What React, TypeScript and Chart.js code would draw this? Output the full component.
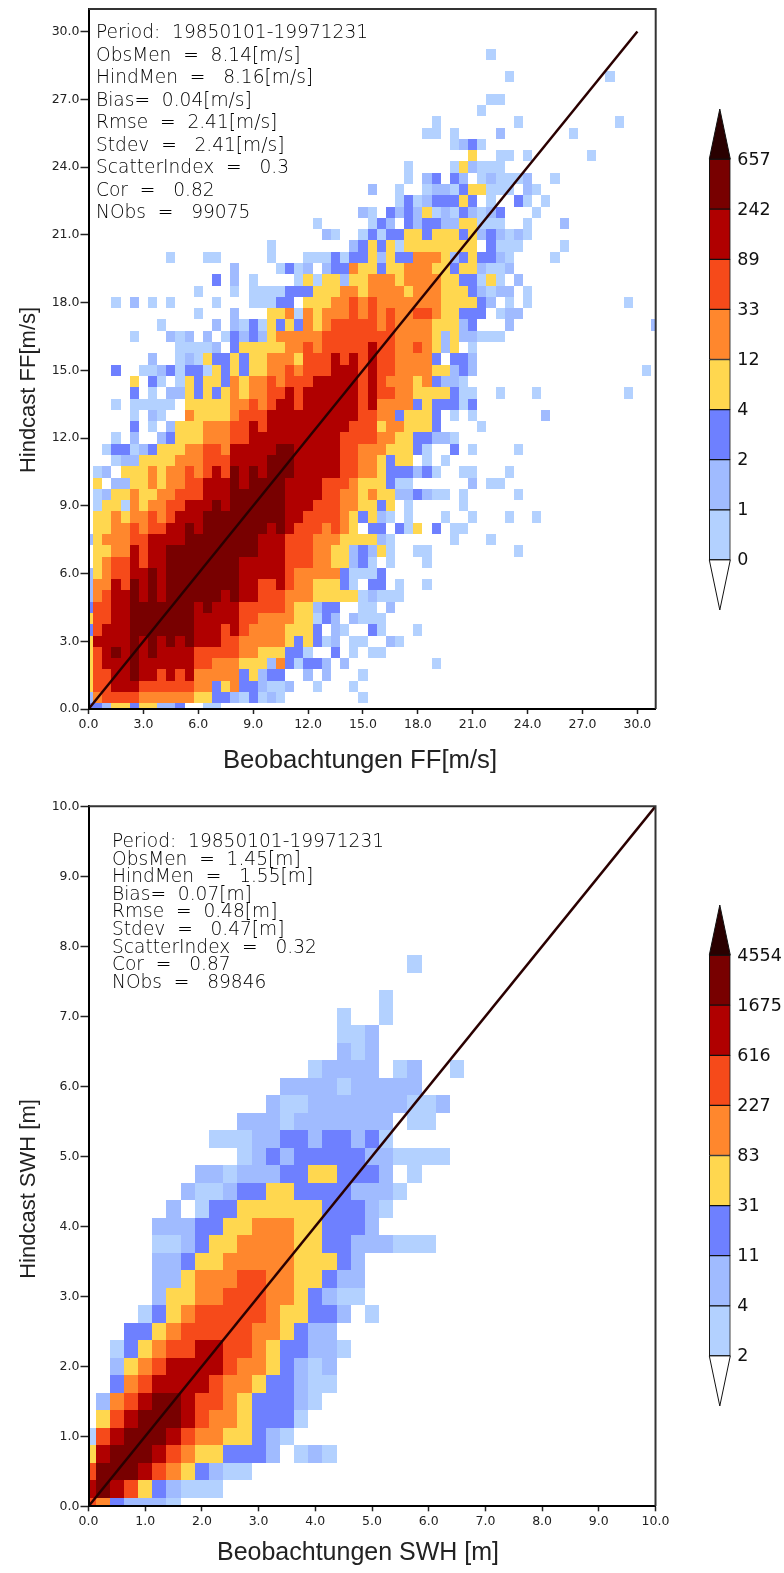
import React, { useEffect, useRef } from "react";
import { Chart, registerables, ScatterController } from "chart.js";

Chart.register(...registerables);

const levelColors = ["#b3d1ff", "#a0bbff", "#6e80ff", "#ffd74f", "#ff872d", "#f64a1a", "#b00000", "#780000"];
const apexColor = "#2a0000";

const ffColorbarLabels = ["0", "1", "2", "4", "12", "33", "89", "242", "657"];
const swhColorbarLabels = ["2", "4", "11", "31", "83", "227", "616", "1675", "4554"];

const ffStats = [
  "Period:  19850101-19971231",
  "ObsMen  =  8.14[m/s]",
  "HindMen  =   8.16[m/s]",
  "Bias=  0.04[m/s]",
  "Rmse  =  2.41[m/s]",
  "Stdev  =   2.41[m/s]",
  "ScatterIndex  =   0.3",
  "Cor  =   0.82",
  "NObs  =   99075",
];
const swhStats = [
  "Period:  19850101-19971231",
  "ObsMen  =  1.45[m]",
  "HindMen  =   1.55[m]",
  "Bias=  0.07[m]",
  "Rmse  =  0.48[m]",
  "Stdev  =   0.47[m]",
  "ScatterIndex  =   0.32",
  "Cor  =   0.87",
  "NObs  =   89846",
];

// One string per y bin, from y = 0 upward. "a-b:L" means x bins a to b hold colour level L.
const ffRows = [
  "0:3 1:3 2:2 3-4:4 5:3 6-7:4 8-9:2 10:3 13-14:1",
  "0:2 1:5 2-5:6 6-11:5 12-13:4 14-15:3 16:2 17:1 18:3 19:1 20:2 21:1 30:1",
  "0:4 1-2:6 3-5:7 6-11:6 12-13:5 14:3 15:4 16:5 17-18:3 19:2 20-21:1 22:2 25:1 29:1",
  "0:4 1-2:6 3-4:7 5:8 6-7:7 8:6 9:7 10:6 11:7 12-16:5 17:3 18:4 19:2 20-21:3 24:2 26:2 30:1",
  "0:4 1:6 2-4:7 5:8 6-11:7 12-13:6 14-16:5 17-19:4 20:2 21:5 22:3 23:1 24-25:3 26:2 28:2 38:1",
  "0:4 1:6 2:7 3:8 4:7 5:8 6:7 7:8 8-11:7 12-16:6 17-18:5 19-21:4 22-23:3 24:1 27:3 29:1 31-32:1",
  "0:4 1-4:7 5:8 6:7 7:8 8:7 9:8 10:7 11:8 12-14:7 15-16:6 17-21:5 22:4 23:3 24:4 25:3 26:1 27:2 29-30:1 33:2 34:1",
  "0:3 1:6 2-4:7 5-11:8 12-14:7 15:6 16:7 17:6 18-21:5 22-24:4 25:3 27:2 28:1 31:3 32:1 36:1",
  "0:4 1-2:6 3-4:7 5-11:8 12-16:7 17-18:6 19-22:5 23-24:4 25:1 26:3 27:2 29:2 30-32:1",
  "0:3 1-2:6 3-4:7 5-11:8 12:7 13:8 14-16:7 17-21:6 22:5 23-24:4 25:2 26-27:3 30-31:1 33:2",
  "0:2 1:5 2:6 3-4:7 5:8 6:7 7:8 8:7 9-14:8 15:7 16:8 17-18:7 19-21:6 22-24:5 25-29:4 30:1 31:2 32-34:1",
  "0:2 1-2:5 3:7 4:6 5:8 6:7 7:8 8:7 9-16:8 17-18:7 19-20:6 21:7 22:6 23-24:5 25-27:4 28:3 29:1 31-32:3 34:1 37:1",
  "0:2 1:4 2:5 3-4:6 5-6:7 7:8 8:7 9-16:8 17-21:7 22:6 23-27:5 28:3 29-31:1 32:3",
  "1:4 2:5 3-4:6 5:7 6:6 7-8:7 9-16:8 17-21:7 22-24:6 25-26:5 27-28:4 29:2 30:3 31:1 33:1 37:1",
  "1-2:4 3-4:5 5:7 6:6 7-8:7 9-18:8 19-21:7 22-24:6 25-26:5 27-28:4 29:2 30:3 31:2 32:4 33:1 36-37:1 47:1",
  "0:2 1:4 2-4:5 5-6:6 7-10:7 11-18:8 19-21:7 22-24:6 25-27:5 28-31:4 32:2 33:1 40:1 44:1",
  "1-2:4 3-4:5 5:6 6:5 7-8:6 9-10:7 11:8 12:7 13-19:8 20:7 21:8 22:7 23-25:6 26:5 27:6 28:5 29:4 31-32:3 34:3 35:1 36:4 38:3 40-41:1",
  "1-2:4 3:5 4:4 5-6:5 7:6 8:5 9:6 10-12:7 13-21:8 22-23:7 24-27:6 28:5 29:4 30:3 31:4 32:2 33:1 35:1 39:1 42:1 46:1 49:1",
  "1:1 2-3:4 4:1 5:5 6:4 7-8:5 9-10:6 11-13:7 14:8 15:7 16-21:8 22-24:7 25-27:6 28-29:5 30-31:4 32:3 33:4 35:1 41:1",
  "1:1 2:2 3-4:4 5:5 6-7:4 8-9:5 10-12:6 13-15:7 16-21:8 22-25:7 26-27:6 28-29:5 30:4 31:5 32-33:4 34-35:2 36:3 37:2 38-39:1 41:1 47:1",
  "1:4 3-4:2 5-6:4 7:5 8:4 9-10:5 11-12:6 13-15:7 16:8 17:7 18-21:8 22-25:7 26-28:6 29:5 30-32:4 33:3 34-35:1 42:2 44-45:1",
  "1:1 2:2 4-6:4 7:5 8:4 9-10:5 11:6 12:5 13:6 14:7 15:6 16:8 17:7 18:8 19:7 20-22:8 23-27:7 28-29:6 30-31:5 32:4 33-35:3 36:2 37:3 38:1 41-42:1 46:1",
  "3:1 4-5:2 6-9:4 10-12:5 13-15:6 16-19:7 20-22:8 23-27:7 28-29:6 30-31:5 32:4 33:3 34-35:4 37:1 39:1",
  "2:1 3-4:3 5:1 6:2 7:3 8-10:4 11-12:5 13-14:6 15:5 16-20:7 21-22:8 23-27:7 28-29:6 30-32:5 33-35:4 36:3 37:1 40:3 42:1 47:1",
  "3:1 5:2 8:2 9:3 10-12:4 13-15:5 16-17:6 18-27:7 28-31:6 32-33:5 34-35:4 36-37:3 38-39:2 40:1",
  "5:3 7:1 9:2 10-12:4 13-15:5 16-17:6 18:7 19:6 20-28:7 29-31:6 32:4 33-34:5 35-37:4 38:3 43:1",
  "5:1 7:2 8:1 11:5 12-15:4 16:5 17-19:6 20-29:7 30-31:6 32-33:5 34:3 35-37:4 38:3 40:1 42:1 50:2",
  "3:1 5-9:1 11-15:4 16-17:5 18:6 19:5 20:6 21-22:7 23:6 24-29:7 30:6 31:7 32-35:5 36:3 37:4 38-40:3 41:1 42:3",
  "5:3 7:1 9-10:2 11:4 12:3 13:4 14:3 15:4 16:5 17:4 18-19:5 20-21:6 22:7 23:6 24-29:7 30:6 31:7 32-33:6 34-35:5 36-39:4 40:3 41-42:1 45:1 49:1 59:1",
  "5:4 7:3 8:1 10:1 11:4 12:3 13-14:4 15:3 16:5 17:4 18-19:5 20:6 21:5 22-24:6 25-29:7 30:6 31:7 32:6 33-35:5 36:4 37:5 38:3 39-40:2 41:1",
  "3:3 6-7:1 8:2 9:3 10:1 11-12:3 13:1 14:4 15:3 16:4 17:3 18-19:4 20-21:5 22:6 23:5 24-26:6 27-29:7 30:6 31:7 32-33:6 34-37:5 38-39:4 40:2 41:3 42:2 61:1",
  "7:2 10:1 11:2 12:1 13:4 14-15:3 16:4 17:3 18-19:4 20-22:5 23:4 24-26:6 27:7 28:6 29:7 30:6 31:7 32-33:6 34-37:5 38:3 40-41:3 42:2",
  "10-13:1 14:2 16:3 17-21:4 22-23:5 24:6 25:5 26-30:6 31:7 32-33:6 34-35:5 36:6 37:5 38:4 39:2 40:4 42:1",
  "5:1 9:2 10:1 11:2 13:2 15:1 16:3 17:2 18:3 19:2 20:4 21-25:5 26-33:6 34-37:5 38:4 39:2 40:4 41-42:2 43-45:1",
  "8:1 14:2 16:2 17:1 18:3 19:1 20:4 21:3 22:4 23:3 24:5 25:4 26:5 27-31:6 32:5 33:6 34-37:5 38-40:4 41:2 42:3 46:2 62:2",
  "12:1 16:2 20-21:4 22:5 23:1 24:5 25:4 26-28:5 29:6 30:5 31:6 32:5 33:6 34-35:5 36-37:6 38:5 39-40:4 41-43:3 45:1 46-47:2",
  "3:1 5:2 7:1 9:1 14:1 18-20:1 21-22:3 24-26:4 27-28:5 29:6 30:5 31:6 32-38:5 39-42:4 43:3 44:2 46:1 48:1 59:1",
  "12:1 16:1 18-21:1 22-24:3 25-27:4 28-29:5 30:4 31-34:5 35:4 36-38:5 39-41:4 42:3 43:2 44:1 45-46:2 48:1",
  "14:3 16:2 18:1 23:1 24:4 25:1 26-27:4 28:2 29-30:4 31-33:5 34:4 35-38:5 39-40:4 41-42:3 43:1 44:4 45:1 47:2",
  "16:2 21:1 22:3 23:1 24:2 26:2 27-28:3 29:5 30-31:4 32:3 33-34:4 35-37:5 38-39:4 40:3 41-42:4 43:2 44-45:1 46:2",
  "9:1 13-14:1 20:1 24-26:1 27:3 28:1 29-30:3 31:4 32:2 33:4 34-35:3 36-38:5 39:4 40:2 41:3 42:4 43-44:3 45:2 46:1 51:1",
  "20:1 29:2 30:3 31:4 32:3 33:4 34:1 35-42:4 44:3 45-47:1 52:1",
  "26:2 27:1 30:1 31:3 32:1 33-34:3 35-36:4 37:3 38-40:4 41:3 42:4 43:2 44:3 45:2 46:1 47:2 48:1",
  "25:1 31:1 32:3 33:2 35:3 36:2 37-38:3 39-40:2 41-42:4 43-45:1 48:1 52:2",
  "30:2 31:1 33:3 34:2 35:3 36:2 37:4 38:1 39:2 40:1 41:3 42:2 43:1 44:2 45:3 49:1",
  "34:1 35:3 36:1 37:2 38-40:3 41:4 42:3 44:1 47:3 48:1 50:1",
  "31:2 34:1 37:1 38-39:2 40:1 41:3 42-43:4 44-46:1 48:2 49:1",
  "35:1 37:2 38:3 40:3 41:2 43:1 44:2 45-47:1 48:2 51:1",
  "35:1 40:1 41:4 42:2 43-45:1",
  "42:4 45-46:1 48:1 55:1",
  "40:1 41:2 42:3 43:1",
  "37-38:1 40:1 45:2 53:1",
  "38:1 47:1 58:1",
  "43:1",
  "44-45:1",
  "",
  "46:1 57:1",
  "",
  "44:1",
];

const swhRows = [
  "0:6 1:5 2:3 3-5:2 6:1",
  "0:7 1:8 2:7 3:6 4:4 5:3 6:2 7-9:1",
  "0:6 1-3:8 4:7 5:6 6:5 7:4 8:3 9:2 10-11:1",
  "0:4 1:7 2-4:8 5:7 6:6 7:5 8-9:4 10-12:3 13:2 15:1 16:2 17:1",
  "0:1 1:6 2:7 3-5:8 6:7 7:6 8-9:5 10-11:4 12:3 13:2 14:1",
  "1:4 2:6 3:7 4-6:8 7:7 8:6 9-10:5 11:4 12-14:3 15:1",
  "1:2 2:5 3:6 4:7 5-6:8 7:7 8-9:6 10:5 11:4 12-14:3 15:2 16:1",
  "2:3 3:5 4:6 5-8:7 9:6 10-11:5 12:4 13-14:3 15:2 16-17:1",
  "2:2 3:4 4:5 5:6 6-9:7 10:6 11-12:5 13:4 14:3 15:2 16:1 17:2",
  "2:1 3:3 4:4 5:5 6-7:6 8-9:7 10-11:6 12:5 13:4 14-15:3 16-17:2 18:1",
  "3-4:3 5:4 6:5 7-11:6 12-13:5 14:4 15:3 16-17:2",
  "4:1 5:3 6:4 7:5 8-12:6 13:5 14-15:4 16-17:3 18:2 20:1",
  "5:2 6-7:4 8-9:5 10-12:6 13-14:5 15:4 16:3 17:2 18-19:1",
  "5-6:2 7:4 8-10:5 11-12:6 13-14:5 15-16:4 17:3 18-19:2",
  "5-6:2 7:3 8-9:4 10-14:5 15-17:4 18:3 19:2",
  "5-6:1 7:2 8:3 9-10:4 11-14:5 15-16:4 17-18:3 19-21:2 22-24:1",
  "5-7:2 8-9:3 10-11:4 12-14:5 15-16:4 17-19:3 20:2",
  "6:2 8:1 9-10:3 11-16:4 17-19:3 20:2 21:1",
  "7:2 8-9:1 10:2 11-12:3 13-14:4 15-18:3 19-21:2 22:1",
  "8-9:2 10:1 11-13:2 14-15:3 16-17:4 18-20:3 21:2 23:1",
  "11:1 12:2 13:3 14:2 15-19:3 20-21:2 22-25:1",
  "9-11:1 12-13:2 14-15:3 16:2 17-18:3 19:2 20:3 21:1",
  "11-13:2 14:1 15-21:2 23-24:1",
  "13:2 14-15:1 16-22:2 23-24:1 25:2",
  "14-17:2 18:1 19-23:2",
  "16:1 17-20:2 22:1 23:2 26:1",
  "18:2 19:1 20:2",
  "18-19:1 20:2",
  "18:1 21:1",
  "21:1",
  "",
  "23:1",
];

const ffXTitle = "Beobachtungen FF[m/s]";
const ffYTitle = "Hindcast FF[m/s]";
const swhXTitle = "Beobachtungen SWH [m]";
const swhYTitle = "Hindcast SWH [m]";

const FF_BIN = 0.5;
const SWH_BIN = 0.25;
const FF_AXIS_MAX = 31;
const SWH_AXIS_MAX = 10;
const FF_TICK_STEP = 3;
const SWH_TICK_STEP = 1;
const FF_LINE_END = 30;
const SWH_LINE_END = 10;

const SANS = "'DejaVu Sans', sans-serif";
const TITLE_FONT = "'Liberation Sans', sans-serif";

type Pt = { x: number; y: number };

function cellsForLevel(rows: string[], binSize: number, level: number): Pt[] {
  const pts: Pt[] = [];
  rows.forEach((row, r) => {
    if (!row) return;
    row.split(" ").forEach((run) => {
      const [span, lv] = run.split(":");
      if (Number(lv) !== level) return;
      const [a, b] = span.split("-").map(Number);
      for (let k = a; k <= (b ?? a); k++) pts.push({ x: k * binSize, y: r * binSize });
    });
  });
  return pts;
}

class HeatCellController extends ScatterController {
  static id = "heatCell";
  draw() {
    const meta: any = this.getMeta();
    const ctx: CanvasRenderingContext2D = this.chart.ctx;
    const ds: any = this.getDataset();
    const half = ds.binSize / 2;
    const xs = meta.xScale;
    const ys = meta.yScale;
    ctx.save();
    ctx.fillStyle = ds.backgroundColor;
    for (const p of ds.data as Pt[]) {
      const l = Math.round(xs.getPixelForValue(p.x - half));
      const rr = Math.round(xs.getPixelForValue(p.x + half));
      const t = Math.round(ys.getPixelForValue(p.y + half));
      const b = Math.round(ys.getPixelForValue(p.y - half));
      ctx.fillRect(l, t, rr - l, b - t);
    }
    ctx.restore();
  }
}
Chart.register(HeatCellController as any);

const clearPadding = (s: any) => {
  s.paddingTop = 0;
  s.paddingBottom = 0;
  s.paddingLeft = 0;
  s.paddingRight = 0;
};

type PanelProps = {
  top: number;
  height: number;
  rows: string[];
  binSize: number;
  axisMax: number;
  tickStep: number;
  lineEnd: number;
  stats: string[];
  statsX: number;
  statsY: number;
  statsLine: number;
  xTitle: string;
  yTitle: string;
  xTitleCx: number;
  xTitleBase: number;
  xTitleSize: number;
  yTitleCy: number;
  yTitleBase: number;
  areaTop: number;
  areaBottom: number;
  areaRight: number;
};

function Panel(p: PanelProps) {
  const ref = useRef<HTMLCanvasElement>(null);
  useEffect(() => {
    const datasets: any[] = [
      {
        type: "scatter",
        data: [
          { x: 0, y: 0 },
          { x: p.lineEnd, y: p.lineEnd },
        ],
        showLine: true,
        borderColor: apexColor,
        borderWidth: 2.5,
        pointRadius: 0,
      },
    ];
    levelColors.forEach((c, i) => {
      datasets.push({
        type: "heatCell",
        data: cellsForLevel(p.rows, p.binSize, i + 1),
        backgroundColor: c,
        binSize: p.binSize,
      });
    });
    const axis = (step: number, tickLength: number, position: string, padding: number, afterFit: (s: any) => void) => ({
      type: "linear",
      position,
      min: 0,
      max: p.axisMax,
      afterFit: (s: any) => {
        afterFit(s);
        clearPadding(s);
      },
      border: { display: true, color: "#000", width: 2, z: 2 },
      grid: { display: true, drawOnChartArea: false, drawTicks: true, tickLength, tickWidth: 1.5, tickColor: "#222", z: 2 },
      ticks: {
        stepSize: step,
        includeBounds: false,
        autoSkip: false,
        maxRotation: 0,
        minRotation: 0,
        padding,
        color: "#222",
        font: { family: SANS, size: 12.5 },
        callback: (v: any) => Number(v).toFixed(1),
      },
    });
    const chart = new Chart(ref.current!, {
      type: "scatter",
      data: { datasets },
      options: {
        animation: false,
        responsive: false,
        devicePixelRatio: 1,
        layout: { padding: { top: p.areaTop, right: 784 - p.areaRight, bottom: 0, left: 0 } },
        plugins: { legend: { display: false }, tooltip: { enabled: false }, title: { display: false } },
        scales: {
          x: axis(p.tickStep, 5, "bottom", 3, (s: any) => {
            s.height = p.height - p.areaBottom;
          }),
          y: axis(p.tickStep, 8, "left", 1, (s: any) => {
            s.width = 88.5;
          }),
        },
      } as any,
      plugins: [
        {
          id: "panelText",
          afterDraw(c: any) {
            const { ctx, chartArea: a } = c;
            ctx.save();
            ctx.strokeStyle = "#333";
            ctx.lineWidth = 2;
            ctx.beginPath();
            ctx.moveTo(a.left, a.top);
            ctx.lineTo(a.right, a.top);
            ctx.lineTo(a.right, a.bottom);
            ctx.stroke();
            ctx.fillStyle = "#000";
            ctx.textAlign = "left";
            ctx.textBaseline = "alphabetic";
            ctx.font = `200 18.6px ${SANS}`;
            p.stats.forEach((s, i) => ctx.fillText(s, p.statsX, p.statsY + i * p.statsLine));
            ctx.fillStyle = "#222";
            ctx.font = `${p.xTitleSize}px ${TITLE_FONT}`;
            ctx.textAlign = "center";
            ctx.fillText(p.xTitle, p.xTitleCx, p.xTitleBase);
            ctx.font = `22px ${TITLE_FONT}`;
            ctx.translate(p.yTitleBase, p.yTitleCy);
            ctx.rotate(-Math.PI / 2);
            ctx.fillText(p.yTitle, 0, 0);
            ctx.restore();
          },
        },
      ],
    });
    return () => chart.destroy();
  }, []);
  return (
    <canvas
      ref={ref}
      width={784}
      height={p.height}
      style={{ position: "absolute", left: 0, top: p.top, width: 784, height: p.height }}
    />
  );
}

function Colorbar({ top, labels }: { top: number; labels: string[] }) {
  const ref = useRef<HTMLCanvasElement>(null);
  useEffect(() => {
    const chart = new Chart(ref.current!, {
      type: "bar",
      data: {
        labels: [""],
        datasets: levelColors.map((c) => ({
          data: [1],
          backgroundColor: c,
          borderColor: "#111",
          borderWidth: 1,
          borderSkipped: false,
          barPercentage: 1,
          categoryPercentage: 1,
          clip: false,
        })),
      } as any,
      options: {
        animation: false,
        responsive: false,
        devicePixelRatio: 1,
        layout: { padding: { top: 9, bottom: 10, left: 19.3, right: 0 } },
        plugins: { legend: { display: false }, tooltip: { enabled: false } },
        scales: {
          x: { stacked: true, display: false },
          y: {
            stacked: true,
            position: "right",
            min: -1,
            max: labels.length,
            afterFit: (s: any) => {
              s.width = 53.7;
              clearPadding(s);
            },
            border: { display: false },
            grid: { display: false, drawTicks: false },
            ticks: {
              stepSize: 1,
              autoSkip: false,
              padding: 7,
              labelOffset: 1,
              color: "#111",
              font: { family: SANS, size: 17.5 },
              callback: (v: any) => labels[Number(v)] ?? "",
            },
          },
        },
      } as any,
      plugins: [
        {
          id: "colorbarEnds",
          afterDraw(c: any) {
            const { ctx, chartArea: a, scales } = c;
            const mid = (a.left + a.right) / 2;
            const y = scales.y;
            const tri = (base: number, apex: number, fill: string) => {
              ctx.beginPath();
              ctx.moveTo(a.left, y.getPixelForValue(base));
              ctx.lineTo(a.right, y.getPixelForValue(base));
              ctx.lineTo(mid, y.getPixelForValue(apex));
              ctx.closePath();
              ctx.fillStyle = fill;
              ctx.fill();
              ctx.strokeStyle = "#111";
              ctx.lineWidth = 1;
              ctx.stroke();
            };
            ctx.save();
            tri(labels.length - 1, labels.length, apexColor);
            tri(0, -1, "#ffffff");
            ctx.restore();
          },
        },
      ],
    });
    return () => chart.destroy();
  }, []);
  return (
    <canvas ref={ref} width={94} height={520} style={{ position: "absolute", left: 690, top, width: 94, height: 520 }} />
  );
}

export default function App() {
  return (
    <div style={{ position: "absolute", left: 0, top: 0, width: 784, height: 1573, background: "#fff", overflow: "hidden" }}>
      <Panel
        top={0}
        height={790}
        rows={ffRows}
        binSize={FF_BIN}
        axisMax={FF_AXIS_MAX}
        tickStep={FF_TICK_STEP}
        lineEnd={FF_LINE_END}
        stats={ffStats}
        statsX={96}
        statsY={38}
        statsLine={22.5}
        xTitle={ffXTitle}
        yTitle={ffYTitle}
        xTitleCx={360}
        xTitleBase={768}
        xTitleSize={25.7}
        yTitleCy={390}
        yTitleBase={35}
        areaTop={9}
        areaBottom={709}
        areaRight={655.7}
      />
      <Panel
        top={790}
        height={783}
        rows={swhRows}
        binSize={SWH_BIN}
        axisMax={SWH_AXIS_MAX}
        tickStep={SWH_TICK_STEP}
        lineEnd={SWH_LINE_END}
        stats={swhStats}
        statsX={112}
        statsY={57}
        statsLine={17.6}
        xTitle={swhXTitle}
        yTitle={swhYTitle}
        xTitleCx={358}
        xTitleBase={770}
        xTitleSize={25}
        yTitleCy={399}
        yTitleBase={35}
        areaTop={16.3}
        areaBottom={716.3}
        areaRight={655.5}
      />
      <Colorbar top={100} labels={ffColorbarLabels} />
      <Colorbar top={896} labels={swhColorbarLabels} />
    </div>
  );
}
